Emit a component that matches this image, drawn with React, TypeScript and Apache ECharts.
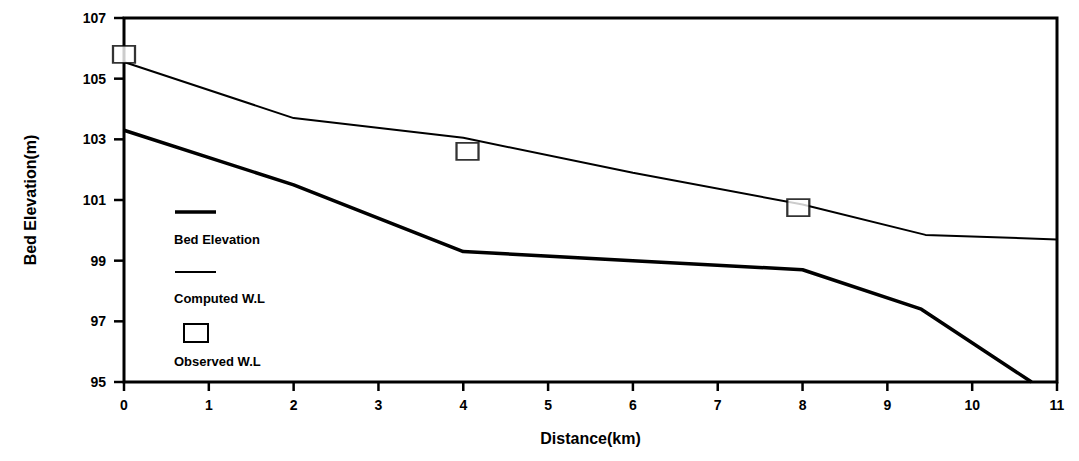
import React, { useEffect, useRef } from "react";
import * as echarts from "echarts";

const bedX = [0, 2, 4, 6, 8, 9.4, 10.7];
const bedY = [103.3, 101.5, 99.3, 99.0, 98.7, 97.4, 95.0];
const wlX = [0, 2, 4, 6, 8, 9.45, 11];
const wlY = [105.55, 103.7, 103.05, 101.9, 100.85, 99.85, 99.7];
const obsX = [0, 4.05, 7.95];
const obsY = [105.8, 102.6, 100.75];
const xTicks = [0, 1, 2, 3, 4, 5, 6, 7, 8, 9, 10, 11];
const yTicks = [95, 97, 99, 101, 103, 105, 107];
const legendNames = ["Bed Elevation", "Computed W.L", "Observed W.L"];

export default function App() {
  const ref = useRef<HTMLDivElement>(null);
  useEffect(() => {
    const chart = echarts.init(ref.current!, null, { renderer: "svg" });
    const font = "Liberation Sans";
    const xMin = xTicks[0], xMax = xTicks[xTicks.length - 1];
    const yMin = yTicks[0], yMax = yTicks[yTicks.length - 1];
    chart.setOption({
      animation: false,
      backgroundColor: "#fff",
      grid: {
        left: 124, right: 22, top: 18, bottom: 79,
        show: true, borderColor: "#000", borderWidth: 3, backgroundColor: "transparent",
      },
      xAxis: {
        type: "value", min: xMin, max: xMax, interval: 1,
        name: "Distance(km)", nameLocation: "middle", nameGap: 48,
        nameTextStyle: { fontFamily: font, fontWeight: "bold", fontSize: 16, color: "#000" },
        axisLine: { show: true, onZero: false, lineStyle: { color: "#000", width: 2 } },
        axisTick: { show: false },
        axisLabel: { fontFamily: font, fontWeight: "bold", fontSize: 14, color: "#000", margin: 16 },
        splitLine: { show: false },
      },
      yAxis: {
        type: "value", min: yMin, max: yMax, interval: 2,
        name: "Bed Elevation(m)", nameLocation: "middle", nameGap: 86, nameRotate: 90,
        nameTextStyle: { fontFamily: font, fontWeight: "bold", fontSize: 16, color: "#000" },
        axisLine: { show: true, onZero: false, lineStyle: { color: "#000", width: 2 } },
        axisTick: { show: false },
        axisLabel: { fontFamily: font, fontWeight: "bold", fontSize: 14, color: "#000", margin: 18 },
        splitLine: { show: false },
      },
      series: [
        {
          name: legendNames[0], type: "line", showSymbol: false,
          data: bedX.map((x, i) => [x, bedY[i]]),
          lineStyle: { color: "#000", width: 3.5 },
        },
        {
          name: legendNames[1], type: "line", showSymbol: false,
          data: wlX.map((x, i) => [x, wlY[i]]),
          lineStyle: { color: "#000", width: 2 },
        },
        {
          name: legendNames[2], type: "scatter", symbol: "rect", symbolSize: [22, 17],
          data: obsX.map((x, i) => [x, obsY[i]]),
          itemStyle: { color: "#fff", borderColor: "#000", borderWidth: 2 },
          z: 5,
        },
      ],
    });
    const tickEls: any[] = [];
    xTicks.forEach((v) => {
      const p = chart.convertToPixel({ gridIndex: 0 }, [v, yMin]) as number[];
      tickEls.push({ type: "line", shape: { x1: p[0], y1: p[1], x2: p[0], y2: p[1] + 9 }, style: { stroke: "#000", lineWidth: 2.5 } });
    });
    yTicks.forEach((v) => {
      const p = chart.convertToPixel({ gridIndex: 0 }, [xMin, v]) as number[];
      tickEls.push({ type: "line", shape: { x1: p[0] - 10, y1: p[1], x2: p[0], y2: p[1] }, style: { stroke: "#000", lineWidth: 2.5 } });
    });
    chart.setOption({
      graphic: [
        ...tickEls,
        { type: "line", shape: { x1: 175, y1: 212, x2: 216, y2: 212 }, style: { stroke: "#000", lineWidth: 3.5 } },
        { type: "text", left: 174, top: 233, style: { text: legendNames[0], font: `bold 13px ${font}`, fill: "#000" } },
        { type: "line", shape: { x1: 175, y1: 272, x2: 216, y2: 272 }, style: { stroke: "#000", lineWidth: 2 } },
        { type: "text", left: 174, top: 292, style: { text: legendNames[1], font: `bold 13px ${font}`, fill: "#000" } },
        { type: "rect", shape: { x: 184, y: 324, width: 24, height: 18 }, style: { fill: "#fff", stroke: "#000", lineWidth: 2 } },
        { type: "text", left: 174, top: 355, style: { text: legendNames[2], font: `bold 13px ${font}`, fill: "#000" } },
      ],
    });
    return () => chart.dispose();
  }, []);
  return <div ref={ref} style={{ width: 1079, height: 461, position: "absolute", left: 0, top: 0 }} />;
}
